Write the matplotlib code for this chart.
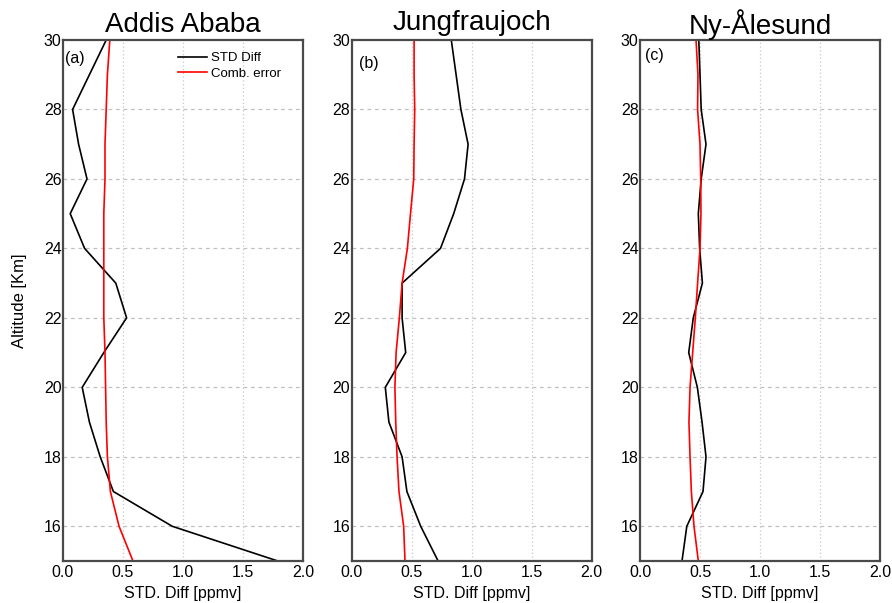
import matplotlib
matplotlib.use("Agg")
import matplotlib.pyplot as plt

plt.rcParams['font.family'] = ['Liberation Sans', 'DejaVu Sans']

altitude = [30, 29, 28, 27, 26, 25, 24, 23, 22, 21, 20, 19, 18, 17, 16, 15]

stations = ["Addis Ababa", "Jungfraujoch", "Ny-Ålesund"]
panel_tags = ["(a)", "(b)", "(c)"]

std_addis = [0.36, 0.22, 0.08, 0.13, 0.20, 0.06, 0.18, 0.44, 0.53, 0.34,
             0.16, 0.22, 0.31, 0.42, 0.91, 1.79]
err_addis = [0.39, 0.37, 0.36, 0.35, 0.35, 0.34, 0.34, 0.34, 0.34, 0.35,
             0.355, 0.36, 0.37, 0.395, 0.467, 0.583]

std_jungfrau = [0.83, 0.87, 0.91, 0.97, 0.94, 0.85, 0.74, 0.42, 0.42, 0.45,
                0.28, 0.31, 0.42, 0.46, 0.575, 0.72]
err_jungfrau = [0.52, 0.52, 0.525, 0.52, 0.517, 0.49, 0.464, 0.42, 0.397, 0.37,
                0.36, 0.367, 0.378, 0.394, 0.433, 0.444]

std_ny = [0.49, 0.50, 0.51, 0.55, 0.51, 0.486, 0.497, 0.52, 0.444, 0.406,
          0.478, 0.517, 0.55, 0.525, 0.39, 0.35]
err_ny = [0.467, 0.483, 0.48, 0.50, 0.506, 0.508, 0.50, 0.48, 0.461, 0.439,
          0.417, 0.408, 0.417, 0.428, 0.45, 0.486]

std_series = [std_addis, std_jungfrau, std_ny]
err_series = [err_addis, err_jungfrau, err_ny]

x_ticks = [0.0, 0.5, 1.0, 1.5, 2.0]
y_ticks = [16, 18, 20, 22, 24, 26, 28, 30]

fig = plt.figure(figsize=(8.92, 6.03), dpi=100)
lefts = [63 / 892, 351.7 / 892, 640 / 892]
width = 240 / 892
bottom = 42 / 603
height = 521 / 603

title_pads = [6, 7, 4]
tag_pos = [(0.01, 0.965), (0.03, 0.955), (0.02, 0.97)]

spine_col = "#4a4a4a"

for i in range(3):
    ax = fig.add_axes([lefts[i], bottom, width, height])
    ax.plot(std_series[i], altitude, color="black", lw=1.2, label="STD Diff")
    ax.plot(err_series[i], altitude, color="red", lw=1.2, label="Comb. error")
    ax.set_xlim(0, 2.0)
    ax.set_ylim(15, 30)
    ax.set_xticks(x_ticks)
    ax.set_xticklabels([f"{v:.1f}" for v in x_ticks])
    ax.set_yticks(y_ticks)
    ax.set_yticklabels([str(v) for v in y_ticks])
    ax.tick_params(axis="both", length=0, labelsize=11.5, colors="black")
    ax.tick_params(axis="y", pad=1)
    ax.tick_params(axis="x", pad=3)
    for x in x_ticks[1:-1]:
        ax.axvline(x, color="#c8c8c8", lw=0.9, ls=(0, (1, 2)), zorder=0)
    for y in y_ticks[:-1]:
        ax.axhline(y, color="#c0c0c0", lw=0.9, ls=(0, (3, 3)), zorder=0)
    for s in ax.spines.values():
        s.set_color(spine_col)
        s.set_linewidth(1.6)
    ax.set_title(stations[i], fontsize=20, pad=title_pads[i])
    ax.set_xlabel("STD. Diff [ppmv]", fontsize=11.5, labelpad=4)
    ax.text(tag_pos[i][0], tag_pos[i][1], panel_tags[i], transform=ax.transAxes,
            fontsize=11.5, va="center", ha="left")
    if i == 0:
        ax.set_ylabel("Altitude [Km]", fontsize=12, labelpad=12)
        ax.legend(loc="upper right", bbox_to_anchor=(0.955, 0.998), frameon=False,
                  fontsize=9.5, handlelength=2.2, handletextpad=0.3,
                  labelspacing=0.25, borderaxespad=0.45)

fig.savefig("out.png", dpi=100)
